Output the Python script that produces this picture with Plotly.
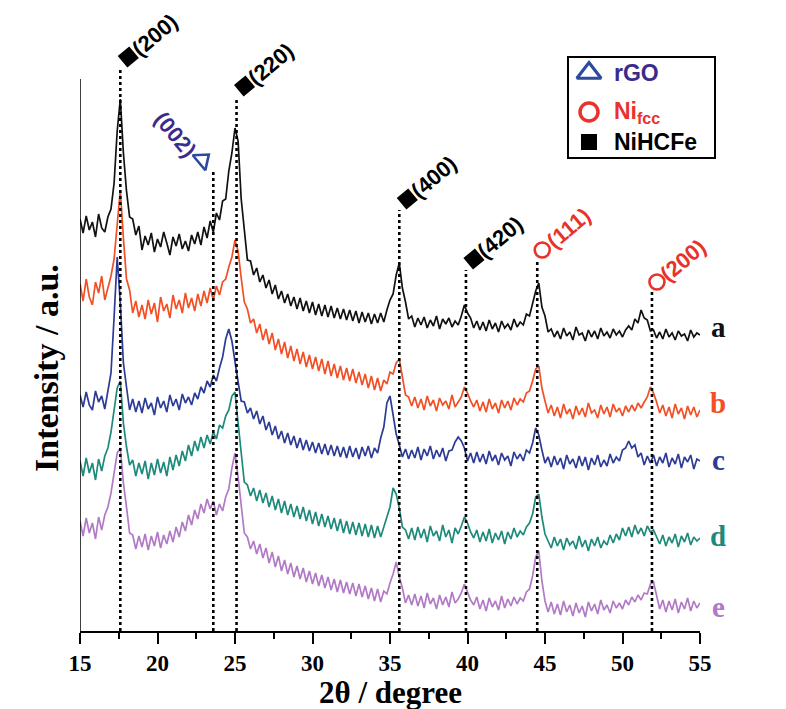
import numpy as np
import plotly.graph_objects as go

# ---------------- data ----------------
two_theta = np.round(15 + 0.2 * np.arange(201), 1)   # 15.0 ... 55.0 deg, 0.2 deg step

# stacked intensities (a.u.), curves a..e
int_a = [412,398,415,401,409,394,417,403,399,414,
         422,448,500,532,478,440,414,412,396,405,
         381,395,386,398,379,392,384,399,388,376,394,385,397,382,390,380,396,387,
         399,386,404,393,410,399,418,411,430,432,460,478,503,490,432,400,371,370,
         356,363,349,356,343,351,337,346,332,340,328,337,325,334,322,333,320,330,318,329,
         316,327,315,326,314,325,313,323,312,322,311,321,310,320,308,319,309,318,307,317,308,318,309,
         321,331,337,356,368,343,329,312,315,
         304,313,306,314,303,311,305,315,302,312,307,313,304,310,306,
         315,326,318,313,303,
         310,301,309,300,311,302,308,299,310,303,307,301,312,304,
         309,306,317,315,328,340,348,324,315,299,
         302,294,300,292,303,295,299,291,304,296,298,290,301,294,300,292,303,295,299,293,302,296,300,294,301,
         305,301,312,308,321,313,311,300,
         301,293,299,292,302,294,298,291,300,295,297,290,301,294,298,296]

int_b = [347,330,352,334,326,349,338,355,331,344,
         355,372,410,441,393,352,341,318,330,314,
         326,312,331,317,328,309,334,320,327,313,336,322,331,318,338,323,333,320,
         337,325,340,328,343,331,345,336,349,352,364,374,391,380,353,329,322,308,
         312,298,307,291,302,287,298,281,292,277,289,273,285,270,282,267,279,264,276,262,
         274,260,272,257,270,255,267,253,265,251,263,250,262,248,259,246,257,243,255,241,253,240,251,
         247,259,257,268,272,254,236,234,225,
         234,223,232,221,235,225,231,220,233,226,230,222,236,224,229,
         234,244,238,230,224,
         231,220,229,219,232,222,228,218,231,223,230,221,233,226,
         232,229,238,240,250,262,265,243,230,218,
         226,215,224,213,227,217,222,212,225,216,223,214,228,218,221,213,226,217,224,214,227,219,223,215,225,
         219,226,220,228,223,229,234,244,
         238,229,218,226,215,224,213,227,217,223,212,225,216,224,214,221]

int_c = [236,224,239,226,221,240,229,235,222,241,
         258,314,374,328,268,244,221,232,219,230,
         218,233,222,228,216,234,223,230,219,236,225,232,221,237,228,234,226,238,
         232,244,238,250,244,256,250,263,274,292,302,290,268,249,230,229,218,223,
         212,220,207,215,201,209,196,205,192,200,188,198,186,195,183,193,181,191,180,189,
         178,188,177,187,176,186,175,185,174,184,173,185,174,183,172,184,175,185,173,183,178,193,204,
         228,235,214,197,186,174,182,172,181,
         173,184,171,182,175,185,172,181,174,183,170,180,181,189,194,
         190,183,170,178,168,
         179,169,177,167,180,170,176,166,178,171,175,165,179,172,
         177,170,181,178,188,203,196,181,168,174,
         164,175,166,173,162,176,167,172,163,175,165,174,161,173,166,176,164,171,165,177,168,174,170,181,183,
         190,183,186,174,178,166,175,168,
         176,165,174,168,178,164,173,167,177,163,174,169,176,162,172,170]

int_d = [170,155,173,158,168,151,172,160,175,183,
         199,219,243,250,208,184,166,171,155,168,
         157,170,152,168,156,172,158,169,155,174,161,176,165,180,170,186,175,190,
         180,194,183,196,187,199,192,206,203,215,221,235,239,208,178,149,146,135,
         143,130,141,128,138,124,135,121,132,118,130,116,127,114,125,112,124,110,121,107,
         119,105,117,104,115,102,113,100,112,98,110,97,109,96,108,95,107,94,106,93,105,94,104,
         113,124,143,137,123,104,101,92,103,
         91,104,93,102,89,105,95,100,90,106,94,101,88,103,97,
         105,114,108,99,93,
         101,89,99,90,102,88,98,91,100,87,99,92,103,94,
         100,96,104,108,117,134,137,114,97,90,
         83,94,85,92,81,93,86,90,82,95,84,91,80,92,85,94,83,90,86,96,88,97,91,103,95,
         104,94,106,97,103,95,105,99,
         101,93,87,96,85,94,88,97,84,95,89,98,86,94,90,93]

int_e = [110,95,113,98,108,92,114,101,116,124,
         138,160,178,183,148,124,98,96,82,95,
         84,97,81,95,85,99,83,96,87,100,89,104,94,109,100,116,106,121,
         112,127,118,132,122,130,116,127,120,134,142,163,178,154,124,98,94,82,
         90,77,87,73,83,68,79,64,75,60,71,57,68,54,65,52,63,49,60,47,
         58,45,56,43,54,41,52,39,51,38,49,37,48,35,47,34,45,32,43,30,42,29,40,
         37,48,57,69,54,43,28,36,26,
         37,25,35,23,38,27,33,22,36,26,34,24,39,28,32,
         38,47,39,31,26,
         34,22,31,20,33,24,30,21,35,23,32,25,34,27,
         33,30,39,42,55,74,80,50,30,19,
         29,17,27,16,30,19,26,15,28,18,25,14,29,20,27,17,31,21,26,18,30,23,28,22,31,
         26,34,29,36,31,38,37,47,
         49,35,22,31,19,30,21,32,18,29,22,33,20,30,23,28]

curve_names = ["a", "b", "c", "d", "e"]
curve_label_y = [304, 228, 171, 95, 24]          # height of the end labels (a.u.)

# reflections
peak_pos = [17.6, 23.6, 25.1, 35.6, 39.9, 44.5, 51.9]
peak_top = [563, 459, 534, 421, 361, 371, 339]    # top of dotted guide lines (a.u.)
peak_hkl = ["(200)", "(002)", "(220)", "(400)", "(420)", "(111)", "(200)"]
peak_phase = ["NiHCFe", "rGO", "NiHCFe", "NiHCFe", "NiHCFe", "Ni", "Ni"]

legend_items = ["rGO", "Ni<sub>fcc</sub>", "NiHCFe"]
x_ticks = [15, 20, 25, 30, 35, 40, 45, 50, 55]

# ---------------- styling ----------------
W, H = 786, 709
L, R, T, B = 80, 86, 30, 78
PW, PH = W - L - R, H - T - B
X0, X1 = 15, 55
YMAX = PH
PXDEG = PW / (X1 - X0)

def px_x(p):  # page pixel -> paper
    return (p - L) / PW

def px_y(p):
    return (H - B - p) / PH

colors = ["#111111", "#f24f24", "#2c3b96", "#1e8a7b", "#b27ac6"]
SERIF = "Liberation Serif"
SANS = "Liberation Sans"
BLUE_T = "#2c4a9e"
PURPLE = "#3a2b8c"
RED = "#e8322b"

fig = go.Figure()

for vals, col in zip([int_a, int_b, int_c, int_d, int_e], colors):
    assert len(vals) == len(two_theta)
    fig.add_trace(go.Scatter(x=two_theta, y=vals, mode="lines",
                             line=dict(color=col, width=1.7),
                             showlegend=False, hoverinfo="skip"))

shapes = []
# dotted guide lines
for p, t in zip(peak_pos, peak_top):
    shapes.append(dict(type="line", xref="x", yref="y", x0=p, x1=p, y0=0, y1=t,
                       line=dict(color="black", width=2.6, dash="dot"), layer="above"))
# visible intensity axis line
shapes.append(dict(type="line", xref="x", yref="y", x0=X0, x1=X0, y0=0, y1=552,
                   line=dict(color="black", width=1.5)))
# legend frame
shapes.append(dict(type="rect", xref="paper", yref="paper",
                   x0=px_x(568), x1=px_x(715), y0=px_y(158), y1=px_y(57),
                   line=dict(color="black", width=2), fillcolor="rgba(0,0,0,0)"))

offsets = {"NiHCFe": (8, 11), "Ni": (5, 10), "rGO": (-11, 12)}
sym = {"NiHCFe": dict(symbol="square", size=15, color="black", angle=-40),
       "Ni": dict(symbol="circle-open", size=15, color=RED, line=dict(width=2.6, color=RED)),
       "rGO": dict(symbol="triangle-up-open", size=17, color=BLUE_T, angle=50,
                   line=dict(width=2.6, color=BLUE_T))}

annotations = []
for ph in ["NiHCFe", "Ni", "rGO"]:
    xs, ys = [], []
    for p, t, hkl, phz in zip(peak_pos, peak_top, peak_hkl, peak_phase):
        if phz != ph:
            continue
        dx, dy = offsets[ph]
        mx, my = p + dx / PXDEG, t + dy
        xs.append(mx)
        ys.append(my)
        if ph == "rGO":
            annotations.append(dict(x=mx, y=my, xref="x", yref="y", text=hkl, showarrow=False,
                                    xshift=-27, yshift=26, textangle=50,
                                    font=dict(family=SANS, size=22, color=PURPLE, weight="bold")))
        else:
            annotations.append(dict(x=mx, y=my, xref="x", yref="y", text=hkl, showarrow=False,
                                    xshift=26, yshift=22, textangle=-40,
                                    font=dict(family=SANS, size=22,
                                              color=("black" if ph == "NiHCFe" else RED),
                                              weight="bold")))
    fig.add_trace(go.Scatter(x=xs, y=ys, mode="markers", marker=sym[ph], cliponaxis=False,
                             showlegend=False, hoverinfo="skip"))

# legend content
leg_x = X0 + (589 - L) / PXDEG
leg_y = [558, 519, 489]
leg_sym = [dict(symbol="triangle-up-open", size=21, color=BLUE_T, line=dict(width=3.2, color=BLUE_T)),
           dict(symbol="circle-open", size=18, color=RED, line=dict(width=3.5, color=RED)),
           dict(symbol="square", size=16, color="black")]
leg_col = [PURPLE, RED, "black"]
for ly, ms, txt, tc in zip(leg_y, leg_sym, legend_items, leg_col):
    fig.add_trace(go.Scatter(x=[leg_x], y=[ly], mode="markers", marker=ms, cliponaxis=False,
                             showlegend=False, hoverinfo="skip"))
    annotations.append(dict(x=X0 + (612 - L) / PXDEG, y=ly, xref="x", yref="y", text=txt,
                            showarrow=False, xanchor="left", yanchor="middle",
                            font=dict(family=SANS, size=23, color=tc, weight="bold")))

# curve labels
for nm, ly, col in zip(curve_names, curve_label_y, colors):
    annotations.append(dict(x=px_x(718), y=ly / YMAX, xref="paper", yref="paper", text=nm,
                            showarrow=False, xanchor="center", yanchor="middle",
                            font=dict(family=SERIF, size=29, color=col, weight="bold")))

# axis titles
annotations.append(dict(x=0.5, y=px_y(692), xref="paper", yref="paper", text="2θ / degree",
                        showarrow=False, xanchor="center", yanchor="middle",
                        font=dict(family=SERIF, size=31, color="black", weight="bold")))
annotations.append(dict(x=px_x(47), y=px_y(368), xref="paper", yref="paper",
                        text="Intensity / a.u.", textangle=-90,
                        showarrow=False, xanchor="center", yanchor="middle",
                        font=dict(family=SERIF, size=34, color="black", weight="bold")))

fig.update_layout(
    width=W, height=H,
    margin=dict(l=L, r=R, t=T, b=B, pad=0),
    paper_bgcolor="white", plot_bgcolor="white",
    font=dict(family=SERIF, color="black"),
    shapes=shapes, annotations=annotations,
    xaxis=dict(range=[X0, X1], showgrid=False, zeroline=False,
               showline=True, linecolor="black", linewidth=1.5,
               ticks="outside", ticklen=11, tickwidth=1.5, tickcolor="black",
               tickmode="array", tickvals=x_ticks,
               ticktext=[str(v) for v in x_ticks],
               minor=dict(ticks="outside", tickmode="linear", tick0=15, dtick=2.5,
                          ticklen=6, tickwidth=1.5, tickcolor="black"),
               tickfont=dict(family=SERIF, size=23, color="black", weight="bold")),
    yaxis=dict(range=[0, YMAX], showgrid=False, zeroline=False, showline=False,
               showticklabels=False, ticks=""),
)

fig.write_html("out.html")
